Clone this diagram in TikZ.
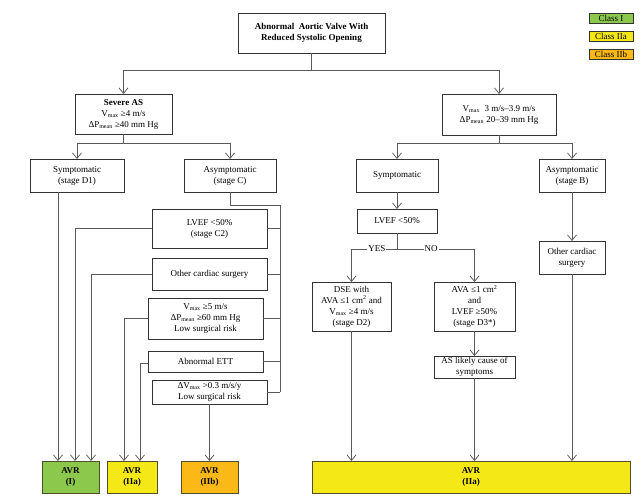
\documentclass[tikz,border=0pt]{standalone}
\usepackage{fontspec}
\setmainfont{Liberation Serif}
\usetikzlibrary{arrows.meta}

\definecolor{classI}{HTML}{8CC84B}
\definecolor{classIIa}{HTML}{F5E817}
\definecolor{classIIb}{HTML}{FBB917}

\begin{document}
\begin{tikzpicture}[x=1pt, y=-1pt,
    font=\fontsize{9}{11}\selectfont,
    box/.style={draw=black!80, line width=0.7pt, align=center, inner sep=0pt, outer sep=0pt},
    avrbox/.style={box, draw=black!55!olive},
    link/.style={draw=black!65, line width=0.75pt},
    arr/.style={link, -{Straight Barb[length=5.5pt, width=9pt]}},
    choice/.style={fill=white, inner sep=1pt}]

    % 画布大小
    \useasboundingbox (0,0) rectangle (640,497);

    % --- 宏：按左上角和右下角放一个方框 ---
    \newcommand{\stagebox}[7][box]{
        \node[#1, minimum width={#5-#3}, minimum height={#6-#4}] (#2)
            at ({(#3+#5)/2},{(#4+#6)/2}) {#7};
    }

    % --- 顶部 ---
    \stagebox{title}{238}{13}{385}{53}{\textbf{Abnormal\ \ Aortic Valve With}\\\textbf{Reduced Systolic Opening}}

    % 图例
    \stagebox[box, fill=classI]{lgI}{589}{13}{633}{23}{Class I}
    \stagebox[box, fill=classIIa]{lgIIa}{589}{31}{633}{41}{Class IIa}
    \stagebox[box, fill=classIIb]{lgIIb}{589}{49}{633}{59}{Class IIb}

    % --- 左侧：重度 AS ---
    \stagebox{severe}{75}{94}{172}{134}{\textbf{Severe AS}\\V\textsubscript{max} ≥4 m/s\\ΔP\textsubscript{mean} ≥40 mm Hg}
    \stagebox{dOne}{30}{159}{124}{192}{Symptomatic\\(stage D1)}
    \stagebox{stageC}{184}{159}{276}{192}{Asymptomatic\\(stage C)}

    \stagebox{cTwo}{152}{209}{267}{248}{LVEF <50\%\\(stage C2)}
    \stagebox{otherC}{152}{258}{267}{290}{Other cardiac surgery}
    \stagebox{vmaxFive}{148}{298}{263}{339}{V\textsubscript{max} ≥5 m/s\\ΔP\textsubscript{mean} ≥60 mm Hg\\Low surgical risk}
    \stagebox{ett}{148}{351}{263}{372}{Abnormal ETT}
    \stagebox{deltaV}{152}{380}{267}{404}{ΔV\textsubscript{max} >0.3 m/s/y\\Low surgical risk}

    % --- 右侧：中度 AS ---
    \stagebox{moderate}{442}{94}{556}{135}{V\textsubscript{max}\ \ 3 m/s–3.9 m/s\\ΔP\textsubscript{mean} 20–39 mm Hg}
    \stagebox{sympt}{356}{159}{438}{192}{Symptomatic}
    \stagebox{stageB}{539}{159}{605}{192}{Asymptomatic\\(stage B)}
    \stagebox{lvef}{357}{209}{437}{233}{LVEF <50\%}
    \stagebox{dse}{312}{282}{391}{331}{DSE with\\AVA ≤1 cm\textsuperscript{2} and\\V\textsubscript{max} ≥4 m/s\\(stage D2)}
    \stagebox{ava}{434}{282}{515}{331}{AVA ≤1 cm\textsuperscript{2}\\and\\LVEF ≥50\%\\(stage D3*)}
    \stagebox{likely}{434}{356}{515}{378}{AS likely cause of\\symptoms}
    \stagebox{otherB}{539}{241}{605}{274}{Other cardiac\\surgery}

    % --- 底部 AVR ---
    \stagebox[avrbox, fill=classI]{avrI}{42}{461}{99}{493}{\textbf{AVR}\\\textbf{(I)}}
    \stagebox[avrbox, fill=classIIa]{avrIIa}{107}{461}{157}{493}{\textbf{AVR}\\\textbf{(IIa)}}
    \stagebox[avrbox, fill=classIIb]{avrIIb}{181}{461}{238}{493}{\textbf{AVR}\\\textbf{(IIb)}}
    \stagebox[avrbox, fill=classIIa]{avrAll}{312}{461}{630}{493}{\textbf{AVR}\\\textbf{(IIa)}}

    % 分叉点与入口
    \path (title.south) ++(0,17) coordinate (topSplit);
    \path (severe.south) ++(0,9) coordinate (sevSplit);
    \path (moderate.south) ++(0,8) coordinate (modSplit);
    \path (lvef.south) ++(0,16) coordinate (lvefSplit);
    \coordinate (cBus) at (280,205);
    \coordinate (cBusEnd) at (280,392);
    \coordinate (inA) at (58,0);
    \coordinate (inB) at (75,0);
    \coordinate (inC) at (91,0);
    \coordinate (inD) at (124,0);
    \coordinate (inE) at (140,0);

    % --- 连线 ---
    \draw[link] (title.south) -- (topSplit);
    \draw[arr] (topSplit) -| (severe.north);
    \draw[arr] (topSplit) -| (moderate.north);

    \draw[link] (severe.south) -- (sevSplit);
    \draw[arr] (sevSplit) -| (dOne.north);
    \draw[arr] (sevSplit) -| (stageC.north);

    % 无症状 C 的汇流线
    \draw[link] (stageC.south) |- (cBus) -- (cBusEnd);
    \foreach \b in {cTwo, otherC, vmaxFive, ett}
        \draw[link] (\b.east) -- (\b.east -| cBus);
    \draw[link] (deltaV.east) -- (deltaV.east -| cBus);

    % 进入 AVR 的箭头
    \draw[arr] (dOne.south -| inA) -- (inA |- avrI.north);
    \draw[arr] (cTwo.west) -| (inB |- avrI.north);
    \draw[arr] (otherC.west) -| (inC |- avrI.north);
    \draw[arr] (vmaxFive.west) -| (inD |- avrIIa.north);
    \draw[arr] ([yshift=-1.5]ett.west) -| (inE |- avrIIa.north);
    \draw[arr] (deltaV.south) -- (avrIIb.north);

    % 右侧
    \draw[link] (moderate.south) -- (modSplit);
    \draw[arr] (modSplit) -| (sympt.north);
    \draw[arr] (modSplit) -| (stageB.north);
    \draw[arr] (sympt.south) -- (lvef.north);
    \draw[link] (lvef.south) -- (lvefSplit);
    \draw[arr] (lvefSplit) -| (dse.north) node[choice, pos=0.22] (yes) {YES};
    \draw[arr] (lvefSplit) -| (ava.north) node[choice, pos=0.22] (no) {NO};
    \draw[arr] (ava.south) -- (likely.north);
    \draw[arr] (stageB.south) -- (otherB.north);

    \draw[arr] (dse.south) -- (dse.south |- avrAll.north);
    \draw[arr] (likely.south) -- (likely.south |- avrAll.north);
    \draw[arr] (otherB.south) -- (otherB.south |- avrAll.north);

\end{tikzpicture}
\end{document}
